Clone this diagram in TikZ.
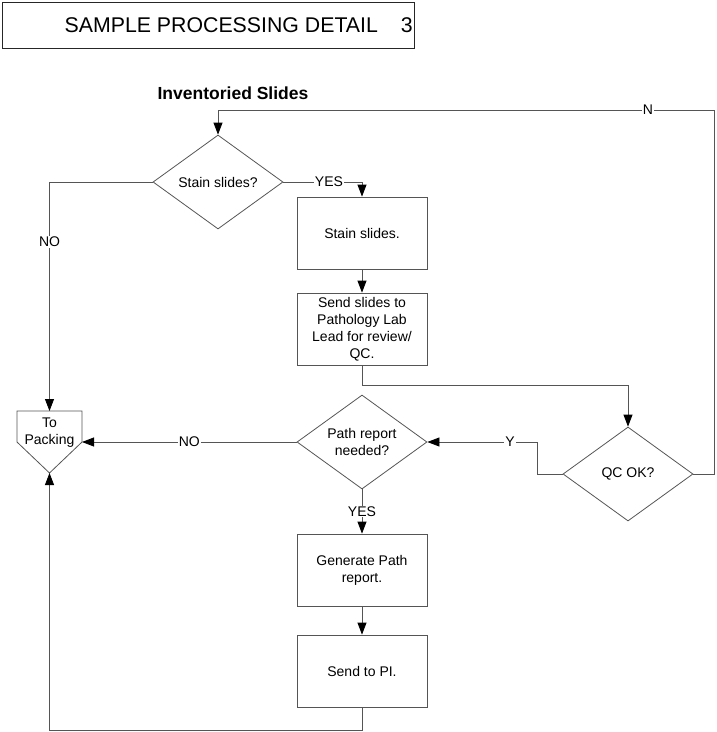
\documentclass[tikz,border=0pt]{standalone}
\usepackage{fontspec}
\setmainfont{Liberation Sans}
\usetikzlibrary{arrows.meta, positioning, shapes.geometric}
\definecolor{linegray}{RGB}{85,85,85}
\tikzset{
  box/.style={draw=linegray, line width=0.8pt, minimum width=130pt, minimum height=72pt, inner sep=0pt, align=center},
  decision/.style={draw=linegray, line width=0.8pt, diamond, aspect=1.38, minimum width=130pt, minimum height=94pt, inner sep=0pt, align=center},
  arr/.style={draw=linegray, line width=0.8pt, -{Triangle[length=12pt,width=9pt,color=black]}},
  lbl/.style={fill=white, inner sep=1pt},
}

\begin{document}
\begin{tikzpicture}[x=1pt, y=-1pt, font=\fontsize{14}{17}\selectfont]
\useasboundingbox (0,0) rectangle (716,732);
% title
\node (title) [draw=black!85, line width=1pt, minimum width=412pt, minimum height=46pt, inner sep=0pt] at (208,25) {};
\node (titletext) [anchor=east, inner sep=0pt, font=\fontsize{21.3}{25}\selectfont] at (413,25) {SAMPLE PROCESSING DETAIL\hspace{23pt}3};
\node (start) [font=\fontsize{17.5}{21}\selectfont\bfseries] at (233,93) {Inventoried Slides};

% shapes
\node (stainq) [decision] at (218,182) {Stain slides?};
\node (stainbox) [box] at (362,233) {Stain slides.};
\node (sendbox) [box] at (362,329) {Send slides to\\Pathology Lab\\Lead for review/\\QC.};
\node (qcq) [decision] at (628,474) {QC OK?};
\node (pathq) [decision] at (362,442) {Path report\\needed?};
\node (genbox) [box] at (362,570) {Generate Path\\report.};
\node (pibox) [box] at (362,671) {Send to PI.};
\node (pack) [align=center, inner sep=0pt] at (49.5,433) {To\\Packing};
\draw[linegray, line width=0.8pt] (17,411) -- (82,411) -- (82,442) -- (49.5,473) -- (17,442) -- cycle;
\coordinate (packT) at (49.5,411);
\coordinate (packR) at (82,442);
\coordinate (packB) at (49.5,473);
\coordinate (loopR) at (714,110);
\coordinate (loopL) at (218,110);

% connectors
\draw[arr] (stainq.east) -| node[lbl, pos=0.29] {YES} (stainbox.north);
\draw[arr] (stainbox.south) -- (sendbox.north);
\draw[arr] (sendbox.south) -- ++(0,20) -| (qcq.north);
\draw[arr] (qcq.west) -- ++(-25,0) |- node[lbl, pos=0.625] {Y} (pathq.east);
\draw[arr] (qcq.east) -| (loopR) -- node[lbl, pos=0.133] {N} (loopL) -- (stainq.north);
\draw[arr] (pathq.west) -- node[lbl] {NO} (packR);
\draw[arr] (stainq.west) -| node[lbl, pos=0.63] {NO} (packT);
\draw[arr] (pathq.south) -- node[lbl] {YES} (genbox.north);
\draw[arr] (genbox.south) -- (pibox.north);
\draw[arr] (pibox.south) -- ++(0,23) -| (packB);
\end{tikzpicture}
\end{document}
